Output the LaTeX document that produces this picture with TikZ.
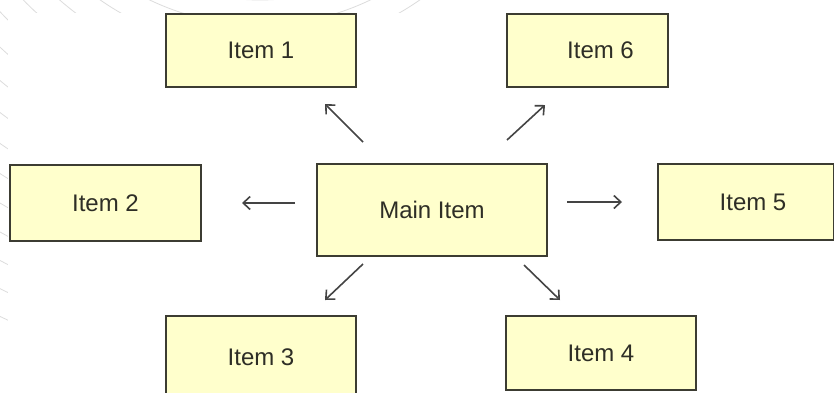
\documentclass[tikz,border=0pt]{standalone}
\usepackage{fontspec}
\setmainfont{Liberation Sans}
\usetikzlibrary{arrows.meta}
\definecolor{boxfill}{HTML}{FFFFCC}
\definecolor{boxline}{HTML}{3C3C32}
\definecolor{inktext}{HTML}{2E2E26}
\definecolor{arrowink}{HTML}{444444}
\definecolor{swirl}{HTML}{DCDCDC}
\tikzset{
  itembox/.style={draw=boxline, line width=2pt, fill=boxfill, text=inktext,
    font=\fontsize{24}{27}\selectfont, inner sep=0pt, anchor=north west},
  arr/.style={draw=arrowink, line width=1.6pt,
    -{Straight Barb[length=7pt,width=13pt,line width=1.6pt]}}
}
\begin{document}
\begin{tikzpicture}[x=1pt,y=-1pt]
  \useasboundingbox (0,0) rectangle (834,392);
  % faint swirl pattern around the page corner
  \begin{scope}
    \clip (0,0) rectangle (430,13) (0,0) rectangle (8,330);
    \foreach \r in {180,205,...,680}
      \draw[swirl, line width=0.8pt] (260,-230) circle (\r);
    \foreach \a in {95,105,...,175}
      \draw[swirl!70, line width=0.6pt] (260,-230) -- ++(\a:-900);
  \end{scope}
  \fill[white] (8,13) rectangle (834,392);

  % boxes
  \node[itembox, minimum width=190pt, minimum height=73pt] (i1) at (165,13) {Item 1};
  \node[itembox, minimum width=161pt, minimum height=73pt] (i6) at (506,13) {\hspace*{26pt}Item 6};
  \node[itembox, minimum width=191pt, minimum height=76pt] (i2) at (9,164) {Item 2};
  \node[itembox, minimum width=230pt, minimum height=92pt] (main) at (316,163) {Main Item};
  \node[itembox, minimum width=176pt, minimum height=76pt] (i5) at (657,163) {\hspace*{14pt}Item 5};
  \node[itembox, minimum width=190pt, minimum height=82pt] (i3) at (165,315) {Item 3};
  \node[itembox, minimum width=190pt, minimum height=74pt] (i4) at (505,315) {Item 4};

  % connectors
  \draw[arr] ([shift={(47,-21)}]main.north west) -- ([shift={(-32,16)}]i1.south east);
  \draw[arr] ([shift={(-41,-23)}]main.north east) -- ([shift={(39,17)}]i6.south west);
  \draw[arr, shorten <=21pt, shorten >=40pt] (main.west |- i2.east) -- (i2.east);
  \draw[arr, shorten <=19pt, shorten >=35pt] (main.east |- i5.west) -- (i5.west);
  \draw[arr] ([shift={(47,7)}]main.south west) -- ([shift={(-32,-15)}]i3.north east);
  \draw[arr] ([shift={(-24,8)}]main.south east) -- ([shift={(55,-15)}]i4.north west);
\end{tikzpicture}
\end{document}
